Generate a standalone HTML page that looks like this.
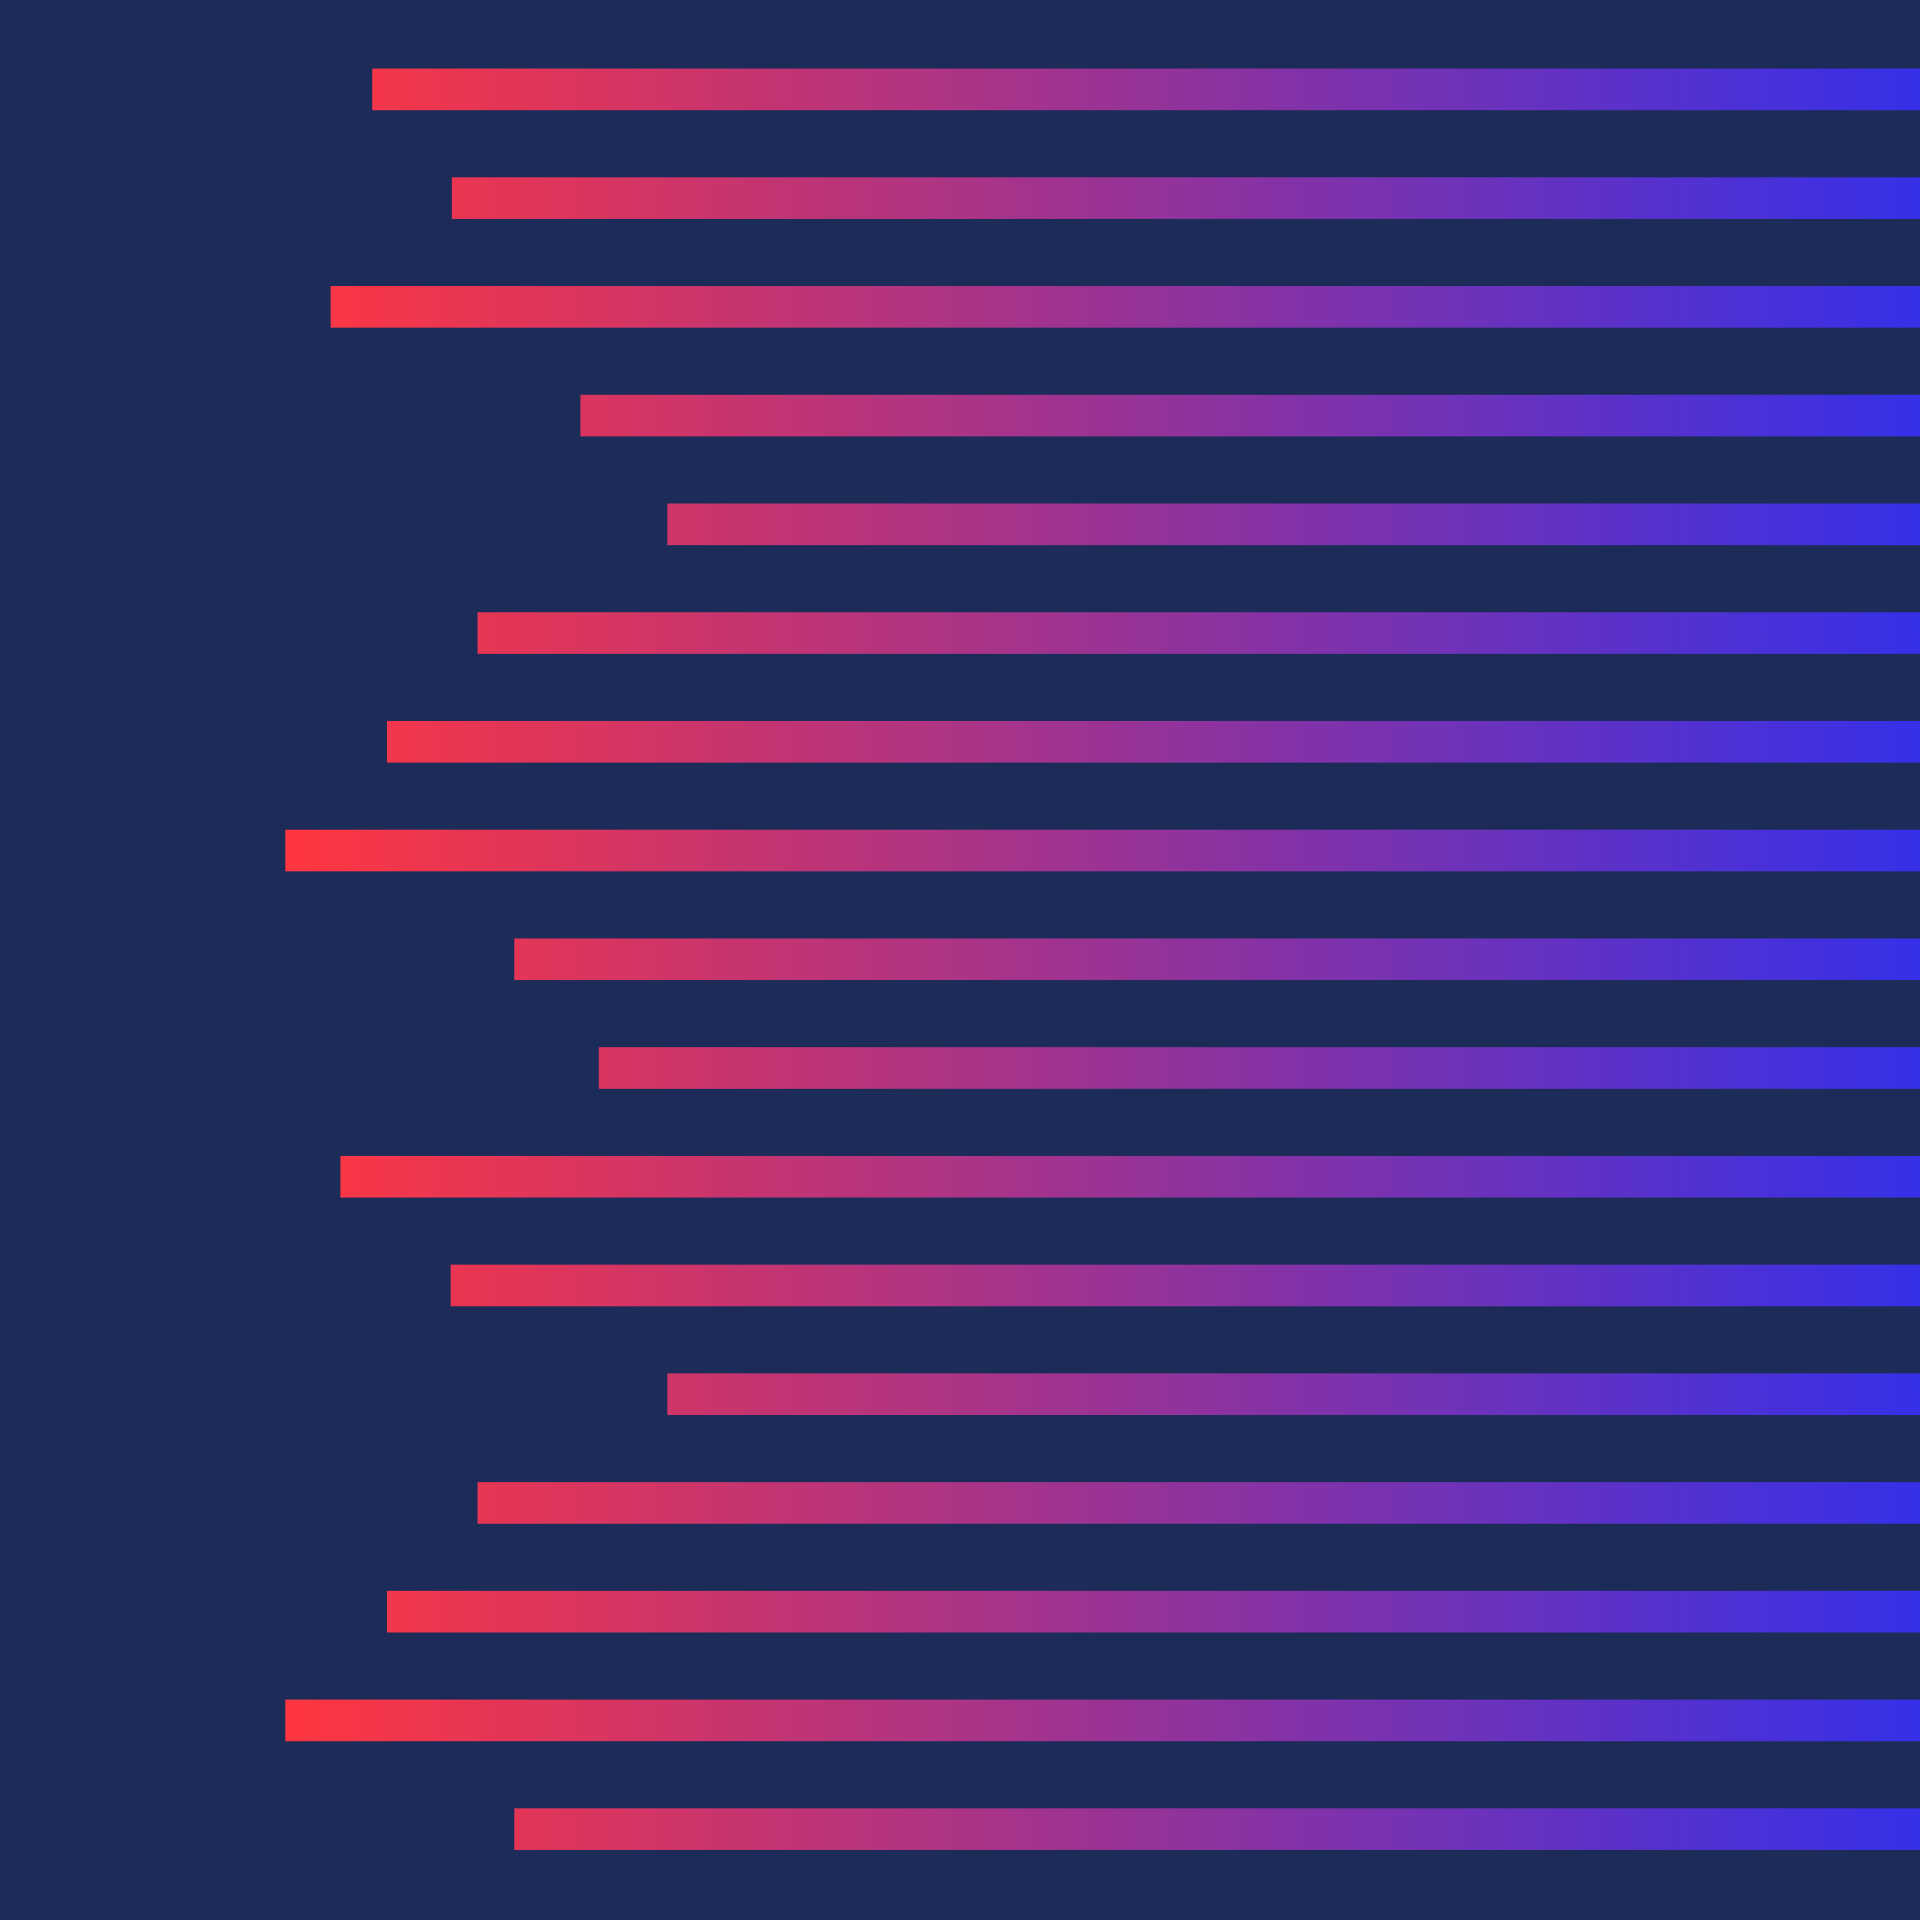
<!DOCTYPE html>
<html>
<head>
<meta charset="utf-8">
<style>
html,body{margin:0;padding:0;background:#1d2b59;}
svg{display:block;}
</style>
</head>
<body>
<svg id="chart" width="1920" height="1920" viewBox="0 0 1568 1568" xmlns="http://www.w3.org/2000/svg">
  <defs>
    <linearGradient id="barGrad" gradientUnits="userSpaceOnUse" x1="233" y1="0" x2="1568" y2="0">
      <stop offset="0" stop-color="#ff3640"/>
      <stop offset="1" stop-color="#3630e8"/>
    </linearGradient>
  </defs>
  <rect x="0" y="0" width="1568" height="1568" fill="#1d2b59"/>
  <g id="bars"></g>
</svg>
<script>
const categories = ["b1","b2","b3","b4","b5","b6","b7","b8","b9","b10","b11","b12","b13","b14","b15","b16","b17"];
const lengths = [1264,1199,1298,1094,1023,1178,1252,1335,1148,1079,1290,1200,1023,1178,1252,1335,1148];

const W = 1568, top0 = 56, step = 88.8, barH = 34;
function xScale(v){ return W - v; }
function yScale(i){ return top0 + i*step; }

const g = document.getElementById('bars');
const ns = "http://www.w3.org/2000/svg";
categories.forEach((c,i)=>{
  const r = document.createElementNS(ns,'rect');
  
  
  r.setAttribute('x', xScale(lengths[i]));
  r.setAttribute('y', yScale(i));
  r.setAttribute('width', lengths[i]);
  r.setAttribute('height', barH);
  r.setAttribute('fill', 'url(#barGrad)');
  g.appendChild(r);
});
</script>
</body>
</html>
